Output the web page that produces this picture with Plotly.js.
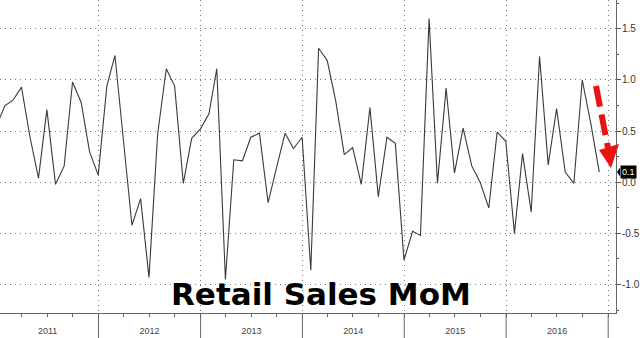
<!DOCTYPE html>
<html>
<head>
<meta charset="utf-8">
<script src="https://cdn.plot.ly/plotly-3.0.1.min.js"></script>
<style>html,body{margin:0;padding:0;background:#fff;}#chart{width:640px;height:338px;}</style>
</head>
<body>
<div id="chart"></div>
<script>
// Monthly retail sales, month-over-month % change
const lastOf2010 = [0.55];                // Dec 2010 (partly off the left edge)
const y2011 = [0.75, 0.80, 0.93, 0.45, 0.04, 0.71, -0.02, 0.16, 0.98, 0.78, 0.30, 0.07];
const y2012 = [0.94, 1.24, 0.40, -0.42, -0.16, -0.93, 0.47, 1.11, 0.94, -0.01, 0.43, 0.52];
const y2013 = [0.67, 1.11, -0.95, 0.22, 0.21, 0.44, 0.48, -0.20, 0.14, 0.48, 0.33, 0.44];
const y2014 = [-0.86, 1.31, 1.19, 0.80, 0.27, 0.34, -0.02, 0.73, -0.14, 0.44, 0.38, -0.76];
const y2015 = [-0.48, -0.52, 1.60, -0.01, 0.92, 0.09, 0.53, 0.16, 0.00, -0.25, 0.49, 0.40];
const y2016 = [-0.50, 0.28, -0.29, 1.23, 0.17, 0.72, 0.10, -0.01, 1.00, 0.57, 0.10];
const years = [2011, 2012, 2013, 2014, 2015, 2016];
const yearValues = [y2011, y2012, y2013, y2014, y2015, y2016];
const yTickVals = [-1.0, -0.5, 0.0, 0.5, 1.0, 1.5];
const yTickText = ['-1.0', '-0.5', '0.0', '0.5', '1.0', '1.5'];
const lastLabel = '0.1';
const chartTitle = 'Retail Sales MoM';

function monthEnd(y, m) { // m: 1..12
  const d = new Date(Date.UTC(y, m, 0));
  return d.toISOString().slice(0, 10);
}
const xs = [monthEnd(2010, 12)];
const ys = [lastOf2010[0]];
years.forEach((yr, i) => {
  yearValues[i].forEach((v, j) => { xs.push(monthEnd(yr, j + 1)); ys.push(v); });
});

const lastVal = ys[ys.length - 1];

const yearLines = [2012, 2013, 2014, 2015, 2016, 2017].map(yr => ({
  type: 'line', xref: 'x', yref: 'paper', x0: yr + '-01-01', x1: yr + '-01-01',
  y0: 0, y1: -0.08, line: {color: '#666', width: 1}, layer: 'above'
}));

const W = 616, H = 313;
const px = (x) => x / W, py = (y) => 1 - y / H;

const shapes = yearLines.concat([
  {type: 'line', xref: 'paper', yref: 'paper',
   x0: px(596), y0: py(86), x1: px(608), y1: py(148),
   line: {color: '#ee1111', width: 6, dash: '21px,8px'}},
  {type: 'path', xref: 'paper', yref: 'paper',
   path: `M ${px(599)} ${py(150)} L ${px(619)} ${py(144)} L ${px(611)} ${py(168)} Z`,
   fillcolor: '#ee1111', line: {width: 0}},
  {type: 'path', xref: 'paper', yref: 'paper',
   path: `M ${px(617)} ${py(172)} L ${px(620)} ${py(167.5)} L ${px(620)} ${py(176.5)} Z`,
   fillcolor: '#000', line: {width: 0}}
]);

const data = [{
  type: 'scatter', mode: 'lines', x: xs, y: ys,
  line: {color: '#3a3a3a', width: 1.1}, hoverinfo: 'skip'
}];

const gridDash = '1px,4px';

const layout = {
  width: 640, height: 338,
  margin: {l: 0, r: 24, t: 0, b: 25, pad: 0},
  paper_bgcolor: '#fff', plot_bgcolor: '#fff',
  showlegend: false,
  xaxis: {
    type: 'date', range: ['2011-01-13', '2017-01-29'],
    dtick: 'M12', tick0: '2011-01-01', ticklabelmode: 'period', tickformat: '%Y',
    showgrid: true, gridcolor: '#777', griddash: gridDash, gridwidth: 1,
    ticks: 'outside', ticklen: 3, tickcolor: '#666', ticklabelstandoff: 6,
    showline: true, linecolor: '#666', linewidth: 1, zeroline: false,
    tickfont: {family: 'Liberation Sans, Arial, sans-serif', size: 9, color: '#444'},
    minor: {dtick: 'M3', ticks: 'outside', ticklen: 3, tickcolor: '#666', showgrid: false}
  },
  yaxis: {
    side: 'right', range: [-1.278, 1.782],
    tickmode: 'array', tickvals: yTickVals, ticktext: yTickText,
    showgrid: true, gridcolor: '#777', griddash: gridDash, gridwidth: 1,
    ticks: 'outside', ticklen: 4, tickcolor: '#555', ticklabelstandoff: -1,
    showline: true, linecolor: '#666', linewidth: 1, zeroline: false,
    tickfont: {family: 'Liberation Sans, Arial, sans-serif', size: 10, color: '#333'},
    minor: {dtick: 0.25, tick0: 0, ticks: 'outside', ticklen: 2, tickcolor: '#555', showgrid: false}
  },
  shapes: shapes,
  annotations: [
    {text: '<b>' + chartTitle + '</b>', xref: 'paper', yref: 'paper',
     x: px(321), y: py(294), xanchor: 'center', yanchor: 'middle', showarrow: false,
     font: {family: 'DejaVu Sans, sans-serif', size: 31, color: '#000'}},
    {text: lastLabel, xref: 'paper', yref: 'y', x: px(620), y: lastVal,
     xanchor: 'left', yanchor: 'middle', showarrow: false, bgcolor: '#000',
     borderpad: 1, font: {family: 'Liberation Sans, Arial, sans-serif', size: 9, color: '#fff'}}
  ]
};

Plotly.newPlot('chart', data, layout, {staticPlot: true, displayModeBar: false});
</script>
</body>
</html>
